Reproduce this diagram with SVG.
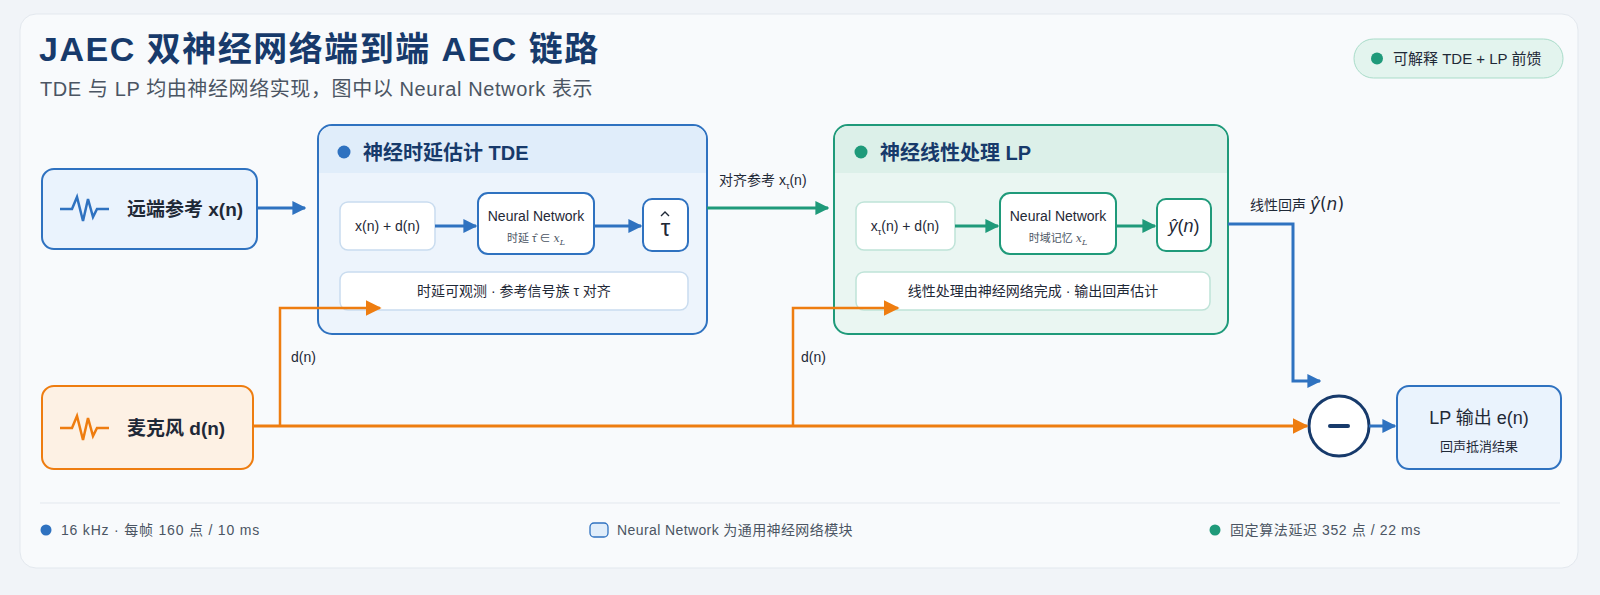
<svg xmlns="http://www.w3.org/2000/svg" width="1600" height="595" viewBox="0 0 1600 595">
<defs>
<style>
text{font-family:"Liberation Sans","Noto Sans CJK SC",sans-serif;}
.h{fill:#173a6b;font-weight:700}
.t{fill:#1f2937}
.s{fill:#4b5563}
.in{fill:#fff;stroke:#c9dcef;stroke-width:1.5}
.inB{fill:#fff;stroke:#2f72c0;stroke-width:2}
.inG{fill:#fff;stroke:#1f9a7a;stroke-width:2}
.inG2{fill:#fff;stroke:#bfe3d8;stroke-width:1.5}
</style>
<marker id="mb" viewBox="0 0 10 10" markerWidth="14" markerHeight="14" refX="9" refY="5" orient="auto" markerUnits="userSpaceOnUse"><path d="M0,0L10,5L0,10z" fill="#2f72c0"/></marker>
<marker id="mg" viewBox="0 0 10 10" markerWidth="14" markerHeight="14" refX="9" refY="5" orient="auto" markerUnits="userSpaceOnUse"><path d="M0,0L10,5L0,10z" fill="#1f9a7a"/></marker>
<marker id="mo" viewBox="0 0 10 10" markerWidth="16" markerHeight="16" refX="9" refY="5" orient="auto" markerUnits="userSpaceOnUse"><path d="M0,0L10,5L0,10z" fill="#ee7d10"/></marker>
</defs>
<rect width="1600" height="595" fill="#f1f4f8"/>
<rect x="20" y="14" width="1558" height="554" rx="16" fill="#f8fafc" stroke="#e3e8ee"/>
<text x="39" y="61" font-size="34" class="h" letter-spacing="1.5">JAEC 双神经网络端到端 AEC 链路</text>
<text x="40" y="96" font-size="20" class="s" letter-spacing="0.6">TDE 与 LP 均由神经网络实现，图中以 Neural Network 表示</text>
<g id="badge"><rect x="1354" y="39" width="209" height="39" rx="19.5" fill="#e3f4ee" stroke="#a9dcc9"/><circle cx="1377" cy="58.5" r="6" fill="#1f9a7a"/><text x="1393" y="64" font-size="15" class="t">可解释 TDE + LP 前馈</text></g>

<g id="far"><rect x="42" y="169" width="215" height="80" rx="12" fill="#eaf3fd" stroke="#2f72c0" stroke-width="2"/>
<path d="M60,209h12l5,-12l6,24l5,-22l5,18l4,-8h12" fill="none" stroke="#2f72c0" stroke-width="2.5"/>
<text x="127" y="216" font-size="19" class="t" font-weight="700">远端参考 x(n)</text></g>

<g id="mic"><rect x="42" y="386" width="211" height="83" rx="12" fill="#fdf1e4" stroke="#ee7d10" stroke-width="2"/>
<path d="M60,428h12l5,-12l6,24l5,-22l5,18l4,-8h12" fill="none" stroke="#ee7d10" stroke-width="2.5"/>
<text x="127" y="435" font-size="19" class="t" font-weight="700">麦克风 d(n)</text></g>

<g id="tde"><rect x="318" y="125" width="389" height="209" rx="14" fill="#edf4fc" stroke="#2f72c0" stroke-width="2"/>
<path d="M332,126h361a13,13 0 0 1 13,13v34h-387v-34a13,13 0 0 1 13,-13z" fill="#e0edfa"/>
<circle cx="344" cy="152" r="6.5" fill="#2f72c0"/>
<text x="363" y="160" font-size="20" class="h">神经时延估计 TDE</text>
<rect x="340" y="202" width="95" height="48" rx="8" class="in"/>
<text x="387.5" y="231" font-size="14" class="t" text-anchor="middle">x(n) + d(n)</text>
<rect x="478" y="193" width="116" height="61" rx="10" class="inB"/>
<text x="536" y="221" font-size="14" class="t" text-anchor="middle">Neural Network</text>
<text x="536" y="242" font-size="11" class="s" text-anchor="middle">时延 τ̂ ∈ <tspan font-style="italic" font-family="DejaVu Serif">x<tspan font-size="8" dy="3">L</tspan></tspan></text>
<rect x="643" y="199" width="45" height="52" rx="9" class="inB"/>
<text x="665.5" y="236" font-size="24" class="t" text-anchor="middle" font-family="DejaVu Serif">τ</text>
<path d="M661,216l4,-4l4,4" fill="none" stroke="#1f2937" stroke-width="1.4"/>
<rect x="340" y="272" width="348" height="38" rx="8" class="in"/>
<text x="514" y="296" font-size="14" class="t" text-anchor="middle">时延可观测 · 参考信号族 τ 对齐</text>
<line x1="435" y1="226" x2="476" y2="226" stroke="#2f72c0" stroke-width="3" marker-end="url(#mb)"/>
<line x1="594" y1="226" x2="641" y2="226" stroke="#2f72c0" stroke-width="3" marker-end="url(#mb)"/>
</g>

<g id="lp"><rect x="834" y="125" width="394" height="209" rx="14" fill="#eaf6f2" stroke="#1f9a7a" stroke-width="2"/>
<path d="M848,126h366a13,13 0 0 1 13,13v34h-392v-34a13,13 0 0 1 13,-13z" fill="#dcf0e9"/>
<circle cx="861" cy="152" r="6.5" fill="#1f9a7a"/>
<text x="880" y="160" font-size="20" class="h">神经线性处理 LP</text>
<rect x="856" y="202" width="99" height="48" rx="8" class="inG2"/>
<text x="905" y="231" font-size="14" class="t" text-anchor="middle">x<tspan font-size="9" dy="4">τ</tspan><tspan dy="-4">(n) + d(n)</tspan></text>
<rect x="1000" y="193" width="116" height="61" rx="10" class="inG"/>
<text x="1058" y="221" font-size="14" class="t" text-anchor="middle">Neural Network</text>
<text x="1058" y="242" font-size="11" class="s" text-anchor="middle">时域记忆 <tspan font-style="italic" font-family="DejaVu Serif">x<tspan font-size="8" dy="3">L</tspan></tspan></text>
<rect x="1157" y="199" width="54" height="52" rx="9" class="inG"/>
<text x="1184" y="232" font-size="18" class="t" text-anchor="middle" font-family="DejaVu Sans"><tspan font-style="italic">ŷ</tspan>(<tspan font-style="italic">n</tspan>)</text>
<rect x="856" y="272" width="354" height="38" rx="8" class="inG2" stroke="#cfe7df"/>
<text x="1033" y="296" font-size="14" class="t" text-anchor="middle">线性处理由神经网络完成 · 输出回声估计</text>
<line x1="955" y1="226" x2="998" y2="226" stroke="#1f9a7a" stroke-width="3" marker-end="url(#mg)"/>
<line x1="1116" y1="226" x2="1155" y2="226" stroke="#1f9a7a" stroke-width="3" marker-end="url(#mg)"/>
</g>

<g id="sub"><circle cx="1339" cy="426" r="30" fill="#fff" stroke="#173a6b" stroke-width="3"/><line x1="1330" y1="426" x2="1348" y2="426" stroke="#173a6b" stroke-width="4" stroke-linecap="round"/></g>

<g id="out"><rect x="1397" y="386" width="164" height="83" rx="12" fill="#eaf3fd" stroke="#2f72c0" stroke-width="2"/>
<text x="1479" y="424" font-size="18" class="t" text-anchor="middle">LP 输出 e(n)</text>
<text x="1479" y="451" font-size="13" class="t" text-anchor="middle">回声抵消结果</text></g>

<g id="connectors" fill="none" stroke-width="3">
<line x1="257" y1="208" x2="305" y2="208" stroke="#2f72c0" marker-end="url(#mb)"/>
<line x1="707" y1="208" x2="828" y2="208" stroke="#1f9a7a" marker-end="url(#mg)"/>
<path d="M1228,224H1293V381H1320" stroke="#2f72c0" marker-end="url(#mb)"/>
<line x1="253" y1="426" x2="1307" y2="426" stroke="#ee7d10" marker-end="url(#mo)"/>
<path d="M280,426V308H380" stroke="#ee7d10" stroke-width="2.5" marker-end="url(#mo)"/>
<path d="M793,426V308H898" stroke="#ee7d10" stroke-width="2.5" marker-end="url(#mo)"/>
<line x1="1369" y1="426" x2="1395" y2="426" stroke="#2f72c0" marker-end="url(#mb)"/>
</g>
<text x="719" y="185" font-size="14" class="t">对齐参考 x<tspan font-size="9" dy="4">τ</tspan><tspan dy="-4">(n)</tspan></text>
<text x="1250" y="210" font-size="14" class="t">线性回声 <tspan font-family="DejaVu Sans" font-size="17"><tspan font-style="italic">ŷ</tspan>(<tspan font-style="italic">n</tspan>)</tspan></text>
<text x="291" y="362" font-size="14" class="t">d(n)</text>
<text x="801" y="362" font-size="14" class="t">d(n)</text>

<line x1="40" y1="503" x2="1560" y2="503" stroke="#e3e8ee"/>
<circle cx="46" cy="530" r="5.5" fill="#2f72c0"/>
<text x="61" y="535" font-size="14" class="s" letter-spacing="0.8">16 kHz · 每帧 160 点 / 10 ms</text>
<rect x="590" y="523" width="18" height="14" rx="4" fill="#e0edfa" stroke="#2f72c0" stroke-width="1.3"/>
<text x="617" y="535" font-size="14" class="s" letter-spacing="0.4">Neural Network 为通用神经网络模块</text>
<circle cx="1215" cy="530" r="5.5" fill="#1f9a7a"/>
<text x="1230" y="535" font-size="14" class="s" letter-spacing="0.6">固定算法延迟 352 点 / 22 ms</text>
</svg>
